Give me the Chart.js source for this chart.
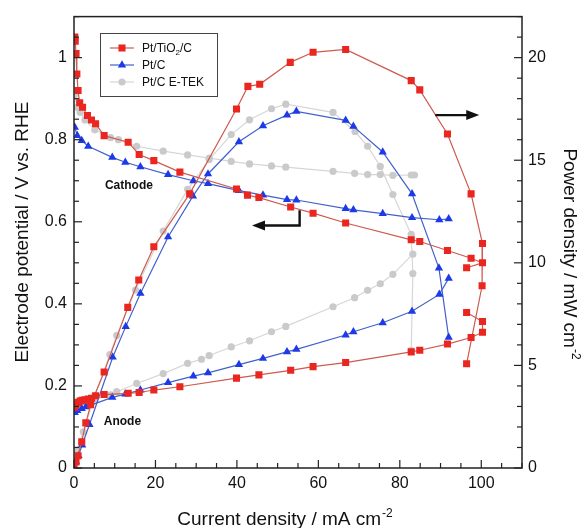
<!DOCTYPE html>
<html>
<head>
<meta charset="utf-8">
<script src="https://cdn.jsdelivr.net/npm/chart.js@4.4.1/dist/chart.umd.min.js"></script>
<style>
  html, body { margin: 0; padding: 0; background: #fff; }
</style>
</head>
<body>
<canvas id="chart" width="585" height="528"></canvas>
<script>
// current density (mA cm-2) vs electrode potential (V) / power density (mW cm-2)
var tioCathodeX = [0.2, 0.3, 0.5, 0.7, 1, 1.4, 2.1, 3.3, 4.3, 5.3, 7.4, 13.3, 16, 19.6, 26, 39.9, 42.6, 45.4, 53.2, 58.7, 66.7, 82.8, 84.9, 91.7, 97.5, 100.3, 96.4];
var tioCathodeV = [1.05, 1.04, 1.01, 0.96, 0.92, 0.89, 0.879, 0.859, 0.848, 0.839, 0.81, 0.794, 0.764, 0.749, 0.721, 0.68, 0.665, 0.659, 0.636, 0.621, 0.597, 0.556, 0.552, 0.53, 0.511, 0.5, 0.488];
var tioAnodeX = [0.2, 0.5, 1, 1.5, 2, 2.7, 3.5, 4.3, 5.3, 7.4, 13.3, 16, 19.6, 26, 39.9, 45.4, 53.2, 58.7, 66.7, 82.8, 84.9, 91.7, 97.5, 100.3, 100.3, 96.4];
var tioAnodeV = [0.148, 0.155, 0.16, 0.163, 0.165, 0.166, 0.168, 0.17, 0.176, 0.179, 0.182, 0.184, 0.19, 0.198, 0.219, 0.227, 0.238, 0.247, 0.257, 0.283, 0.287, 0.302, 0.318, 0.331, 0.357, 0.379];
var tioPowerX = [0, 0.5, 1, 1.9, 2.9, 4.1, 7.4, 13.2, 15.9, 19.6, 28.4, 39.9, 42.7, 45.6, 53.1, 58.7, 66.7, 82.8, 84.9, 91.7, 97.5, 100.3, 100.2, 96.4];
var tioPowerP = [0, 0.3, 0.6, 1.28, 2.2, 3.09, 4.68, 7.83, 9.16, 10.78, 13.36, 17.5, 18.6, 18.7, 19.77, 20.26, 20.4, 18.88, 18.43, 16.28, 13.36, 10.94, 8.88, 5.08];

var ptcCathodeX = [0.2, 0.8, 1.9, 3.5, 9.4, 12.6, 16.3, 23.1, 29.3, 32.9, 40.5, 46.4, 52.3, 54.6, 66.7, 68.6, 75.8, 83, 89.7, 92];
var ptcCathodeV = [0.83, 0.81, 0.798, 0.784, 0.757, 0.745, 0.734, 0.715, 0.7, 0.693, 0.676, 0.665, 0.654, 0.653, 0.632, 0.629, 0.62, 0.61, 0.605, 0.607];
var ptcAnodeX = [0.2, 0.8, 1.9, 2.9, 3.8, 9.4, 12.6, 16.3, 23.1, 29.3, 32.9, 40.5, 46.4, 52.3, 54.6, 66.7, 68.6, 75.8, 83, 89.7, 92];
var ptcAnodeV = [0.135, 0.14, 0.145, 0.149, 0.152, 0.172, 0.18, 0.19, 0.208, 0.224, 0.232, 0.252, 0.267, 0.283, 0.289, 0.324, 0.332, 0.354, 0.382, 0.423, 0.462];
var ptcPowerX = [0, 0.5, 1.1, 2, 3.8, 9.5, 12.7, 16.3, 23.1, 29.2, 32.9, 40.5, 46.4, 52.3, 54.6, 66.7, 68.6, 75.8, 83, 89.6, 92];
var ptcPowerP = [0, 0.3, 0.6, 1.12, 2.12, 5.4, 6.89, 8.51, 11.26, 13.25, 14.33, 15.9, 16.68, 17.2, 17.38, 16.94, 16.65, 15.4, 13.36, 9.74, 6.37];

var etekCathodeX = [0.2, 0.7, 1.5, 2.7, 5.1, 9, 10.9, 15.4, 21.9, 27.9, 33.2, 38.6, 43.1, 48.5, 52, 63.6, 68.9, 72.1, 75.2, 78.3, 82.8, 83.6];
var etekCathodeV = [0.91, 0.879, 0.867, 0.848, 0.824, 0.805, 0.8, 0.784, 0.772, 0.763, 0.755, 0.747, 0.741, 0.736, 0.733, 0.723, 0.718, 0.715, 0.715, 0.713, 0.714, 0.714];
var etekAnodeX = [0.2, 0.7, 1.5, 2.7, 5.1, 9, 10.5, 15.4, 21.9, 27.9, 31.3, 33.2, 38.6, 43.1, 48.5, 52, 63.6, 68.9, 72.1, 75.2, 78.3, 83.2];
var etekAnodeV = [0.15, 0.155, 0.158, 0.162, 0.168, 0.178, 0.186, 0.206, 0.23, 0.255, 0.265, 0.274, 0.295, 0.31, 0.332, 0.345, 0.393, 0.415, 0.433, 0.449, 0.472, 0.521];
var etekPowerX = [0, 0.7, 2.3, 5.1, 8.8, 10.5, 15.1, 21.9, 27.9, 33.2, 38.6, 43.1, 48.5, 52, 63.6, 69, 72.1, 75.2, 78.3, 82.8, 83.2, 82.8];
var etekPowerP = [0, 0.87, 1.76, 3.5, 5.53, 6.46, 8.67, 11.55, 13.58, 15.03, 16.25, 16.97, 17.51, 17.73, 17.33, 16.4, 15.68, 14.7, 13.33, 11.39, 9.48, 5.73];

var xTicks = [0, 20, 40, 60, 80, 100];
var vTicks = [0, 0.2, 0.4, 0.6, 0.8, 1];
var pTicks = [0, 5, 10, 15, 20];

var FONT = '"Liberation Sans", Arial, Helvetica, sans-serif';
var RED = "rgb(234, 38, 32)", RED_LINE = "rgb(206, 90, 80)";
var BLUE = "rgb(28, 58, 232)", BLUE_LINE = "rgb(66, 96, 204)";
var GREY = "rgb(202, 202, 202)", GREY_LINE = "rgb(214, 214, 214)";

var legendItems = [
  { name: ["Pt/TiO", "2", "/C"], color: RED, line: RED_LINE, style: "rect", r: 5 },
  { name: ["Pt/C"], color: BLUE, line: BLUE_LINE, style: "triangle", r: 4.8 },
  { name: ["Pt/C E-TEK"], color: GREY, line: GREY_LINE, style: "circle", r: 3.6 }
];

function pts(xs, ys) {
  return xs.map(function (x, i) { return { x: x, y: ys[i] }; });
}

function series(label, xs, ys, axis, item) {
  return {
    label: label,
    data: pts(xs, ys),
    yAxisID: axis,
    showLine: true,
    tension: 0,
    borderColor: item.line,
    borderWidth: 1.2,
    backgroundColor: item.color,
    pointBackgroundColor: item.color,
    pointBorderWidth: 0,
    pointStyle: item.style,
    pointRadius: item.r,
    pointHoverRadius: item.r
  };
}

var red = legendItems[0], blue = legendItems[1], grey = legendItems[2];

// draw frame, inward ticks, legend, titles and arrows
var decor = {
  id: "decor",
  afterDraw: function (chart) {
    var ctx = chart.ctx, a = chart.chartArea;
    var sx = chart.scales.x, sy = chart.scales.y, sp = chart.scales.y2;
    ctx.save();
    ctx.strokeStyle = "#222";
    ctx.lineWidth = 1.5;
    ctx.strokeRect(a.left, a.top, a.right - a.left, a.bottom - a.top);

    function seg(x1, y1, x2, y2) {
      ctx.beginPath(); ctx.moveTo(x1, y1); ctx.lineTo(x2, y2); ctx.stroke();
    }
    ctx.lineWidth = 1.2;
    var i, p;
    for (i = 0; i <= 22; i++) {
      p = sx.getPixelForValue(i * 5);
      seg(p, a.bottom, p, a.bottom - (i % 4 === 0 ? 8 : 5));
    }
    for (i = 0; i <= 22; i++) {
      p = sy.getPixelForValue(i * 0.05);
      seg(a.left, p, a.left + (i % 4 === 0 ? 8 : 5), p);
    }
    for (i = 0; i <= 22; i++) {
      p = sp.getPixelForValue(i);
      seg(a.right, p, a.right - (i % 5 === 0 ? 8 : 5), p);
    }

    // legend
    ctx.fillStyle = "#fff";
    ctx.fillRect(100, 33, 117, 63);
    ctx.strokeStyle = "#444";
    ctx.lineWidth = 1;
    ctx.strokeRect(100.5, 33.5, 117, 63);
    legendItems.forEach(function (it, k) {
      var y = 48 + k * 17;
      ctx.strokeStyle = it.line;
      ctx.lineWidth = 1.2;
      seg(110, y, 134, y);
      ctx.fillStyle = it.color;
      Chart.helpers.drawPoint(ctx, { pointStyle: it.style, radius: it.r, rotation: 0, borderWidth: 0 }, 122, y);
      ctx.fillStyle = "#111";
      ctx.textBaseline = "alphabetic";
      ctx.textAlign = "left";
      var x = 142;
      it.name.forEach(function (part, j) {
        var sub = it.name.length === 3 && j === 1;
        ctx.font = (sub ? 8 : 12) + "px " + FONT;
        ctx.fillText(part, x, y + 4 + (sub ? 3 : 0));
        x += ctx.measureText(part).width;
      });
    });

    // curve labels
    ctx.fillStyle = "#111";
    ctx.font = "bold 12px " + FONT;
    ctx.textBaseline = "middle";
    ctx.fillText("Cathode", sx.getPixelForValue(7.6), sy.getPixelForValue(0.689));
    ctx.fillText("Anode", sx.getPixelForValue(7.3), sy.getPixelForValue(0.112));

    // arrows
    ctx.strokeStyle = "#111";
    ctx.fillStyle = "#111";
    ctx.lineWidth = 2.4;
    function head(tx, ty, dir) {
      ctx.beginPath();
      ctx.moveTo(tx, ty);
      ctx.lineTo(tx - dir * 13, ty - 5);
      ctx.lineTo(tx - dir * 13, ty + 5);
      ctx.closePath();
      ctx.fill();
    }
    var lx = sx.getPixelForValue(55.4), ly1 = sy.getPixelForValue(0.628), ly2 = sy.getPixelForValue(0.591);
    var ltip = sx.getPixelForValue(43.7);
    ctx.beginPath();
    ctx.moveTo(lx, ly1); ctx.lineTo(lx, ly2); ctx.lineTo(ltip + 10, ly2);
    ctx.stroke();
    head(ltip, ly2, -1);
    var rx1 = sx.getPixelForValue(88.7), rx2 = sx.getPixelForValue(99.5), ry = sp.getPixelForValue(17.2);
    seg(rx1, ry, rx2 - 10, ry);
    head(rx2, ry, 1);

    // axis titles
    function titled(parts, cx, by) {
      ctx.font = "19px " + FONT;
      var w1 = ctx.measureText(parts[0]).width;
      ctx.font = "12px " + FONT;
      var w2 = parts[1] ? ctx.measureText(parts[1]).width + 1 : 0;
      var x0 = cx - (w1 + w2) / 2;
      ctx.textAlign = "left";
      ctx.textBaseline = "alphabetic";
      ctx.font = "19px " + FONT;
      ctx.fillText(parts[0], x0, by);
      if (parts[1]) {
        ctx.font = "12px " + FONT;
        ctx.fillText(parts[1], x0 + w1 + 1, by - 8);
      }
    }
    ctx.fillStyle = "#111";
    titled(["Current density / mA cm", "-2"], 285, 525);
    ctx.save();
    ctx.translate(28, 232);
    ctx.rotate(-Math.PI / 2);
    titled(["Electrode potential / V vs. RHE"], 0, 0);
    ctx.restore();
    ctx.save();
    ctx.translate(564, 254);
    ctx.rotate(Math.PI / 2);
    titled(["Power density / mW cm", "-2"], 0, 0);
    ctx.restore();
    ctx.restore();
  }
};

function fixedTicks(list) {
  return function (scale) {
    scale.ticks = list.map(function (v) { return { value: v }; });
  };
}

function axis(extra) {
  var base = {
    type: "linear",
    grid: { display: false, drawTicks: false },
    border: { display: false },
    ticks: {
      color: "#111",
      font: { family: FONT, size: 16 },
      callback: function (v) { return String(Math.round(v * 100) / 100); }
    }
  };
  for (var k in extra) {
    if (k === "ticks") {
      for (var t in extra.ticks) base.ticks[t] = extra.ticks[t];
    } else {
      base[k] = extra[k];
    }
  }
  return base;
}

new Chart(document.getElementById("chart"), {
  type: "scatter",
  data: {
    datasets: [
      series("Pt/TiO2/C cathode", tioCathodeX, tioCathodeV, "y", red),
      series("Pt/TiO2/C anode", tioAnodeX, tioAnodeV, "y", red),
      series("Pt/TiO2/C power", tioPowerX, tioPowerP, "y2", red),
      series("Pt/C cathode", ptcCathodeX, ptcCathodeV, "y", blue),
      series("Pt/C anode", ptcAnodeX, ptcAnodeV, "y", blue),
      series("Pt/C power", ptcPowerX, ptcPowerP, "y2", blue),
      series("Pt/C E-TEK cathode", etekCathodeX, etekCathodeV, "y", grey),
      series("Pt/C E-TEK anode", etekAnodeX, etekAnodeV, "y", grey),
      series("Pt/C E-TEK power", etekPowerX, etekPowerP, "y2", grey)
    ]
  },
  plugins: [decor],
  options: {
    responsive: false,
    animation: false,
    devicePixelRatio: 1,
    layout: { padding: { top: 15, left: 0, right: 0, bottom: 0 } },
    plugins: {
      legend: { display: false },
      tooltip: { enabled: false }
    },
    scales: {
      x: axis({
        position: "bottom", min: 0, max: 110,
        ticks: { padding: 6, maxRotation: 0, autoSkip: false },
        afterBuildTicks: fixedTicks(xTicks),
        afterFit: function (s) { s.height = 60; }
      }),
      y: axis({
        position: "left", min: 0, max: 1.1,
        ticks: { padding: 7, autoSkip: false },
        afterBuildTicks: fixedTicks(vTicks),
        afterFit: function (s) { s.width = 74; }
      }),
      y2: axis({
        position: "right", min: 0, max: 22,
        ticks: { padding: 6, autoSkip: false },
        afterBuildTicks: fixedTicks(pTicks),
        afterFit: function (s) { s.width = 63; }
      })
    }
  }
});
</script>
</body>
</html>
